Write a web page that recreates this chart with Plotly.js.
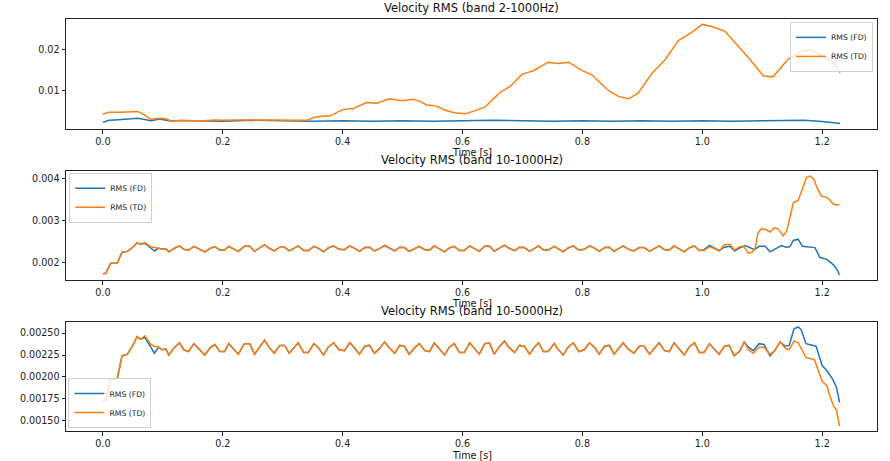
<!DOCTYPE html>
<html>
<head>
<meta charset="utf-8">
<script src="https://cdn.plot.ly/plotly-3.0.1.min.js"></script>
<style>
  html, body { margin: 0; padding: 0; background: #fff; }
  #chart { width: 890px; height: 461px; }
</style>
</head>
<body>
<div id="chart"></div>
<script>
// band 2-1000Hz
const tFd1 = [0, 0.01, 0.02, 0.035, 0.05, 0.058, 0.07, 0.08, 0.095, 0.11, 0.15, 0.2, 0.25, 0.3, 0.35, 0.4, 0.45, 0.5, 0.55, 0.6, 0.65, 0.7, 0.75, 0.8, 0.85, 0.9, 0.95, 1.0, 1.05, 1.1, 1.15, 1.17, 1.2, 1.23];
const vFd1 = [0.0021, 0.0026, 0.0027, 0.0028, 0.0030, 0.0031, 0.0028, 0.0025, 0.0029, 0.0025, 0.0025, 0.0024, 0.0026, 0.0025, 0.0024, 0.0025, 0.0024, 0.0025, 0.0024, 0.0025, 0.0026, 0.0025, 0.0024, 0.0025, 0.0024, 0.0025, 0.0024, 0.0025, 0.0024, 0.0025, 0.0026, 0.0026, 0.0023, 0.0018];
const tTd1 = [0, 0.01, 0.03, 0.05, 0.058, 0.065, 0.08, 0.095, 0.105, 0.115, 0.13, 0.15, 0.17, 0.185, 0.2, 0.22, 0.24, 0.26, 0.28, 0.3, 0.32, 0.34, 0.352, 0.365, 0.38, 0.392, 0.402, 0.418, 0.43, 0.44, 0.457, 0.477, 0.5, 0.518, 0.53, 0.54, 0.557, 0.571, 0.588, 0.605, 0.621, 0.638, 0.65, 0.663, 0.68, 0.699, 0.718, 0.743, 0.76, 0.777, 0.799, 0.816, 0.83, 0.843, 0.86, 0.877, 0.893, 0.916, 0.938, 0.96, 0.98, 1.0, 1.016, 1.038, 1.06, 1.08, 1.102, 1.118, 1.143, 1.165, 1.177, 1.19, 1.216, 1.23];
const vTd1 = [0.0041, 0.0046, 0.0046, 0.0048, 0.0048, 0.0043, 0.0029, 0.0031, 0.0030, 0.0024, 0.0026, 0.0025, 0.0025, 0.0027, 0.0026, 0.0027, 0.0027, 0.0027, 0.0026, 0.0026, 0.0027, 0.0026, 0.0033, 0.0036, 0.0037, 0.0047, 0.0053, 0.0055, 0.0063, 0.0070, 0.0068, 0.0079, 0.0074, 0.0078, 0.0072, 0.0064, 0.0061, 0.0051, 0.0044, 0.0042, 0.0050, 0.0059, 0.0077, 0.0095, 0.0110, 0.0139, 0.0148, 0.0169, 0.0166, 0.0169, 0.0149, 0.0138, 0.0118, 0.0100, 0.0085, 0.0079, 0.0093, 0.0142, 0.0175, 0.0222, 0.0240, 0.0262, 0.0257, 0.0245, 0.0208, 0.0175, 0.0135, 0.0133, 0.0176, 0.0195, 0.0199, 0.0193, 0.0171, 0.0143];

// bands 10-1000Hz and 10-5000Hz share the start
const tHead = [0, 0.005, 0.013, 0.024, 0.032, 0.041, 0.05, 0.057, 0.063, 0.07, 0.08, 0.086, 0.093, 0.099];
const vHeadFd = [0.00173, 0.00174, 0.00198, 0.00198, 0.00224, 0.00226, 0.00236, 0.00246, 0.00243, 0.00245, 0.00234, 0.00227, 0.00234, 0.00231];
const vHeadTd = [0.00173, 0.00174, 0.00198, 0.00198, 0.00224, 0.00226, 0.00236, 0.00246, 0.00243, 0.00247, 0.00237, 0.00235, 0.00234, 0.00231];

const tMid = [0.105, 0.11, 0.12, 0.128, 0.135, 0.143, 0.152, 0.16, 0.17, 0.18, 0.187, 0.195, 0.203, 0.21, 0.217, 0.226, 0.236, 0.245, 0.253, 0.261, 0.27, 0.277, 0.286, 0.295, 0.303, 0.311, 0.32, 0.326, 0.335, 0.343, 0.352, 0.359, 0.368, 0.376, 0.385, 0.394, 0.403, 0.412, 0.42, 0.428, 0.437, 0.445, 0.453, 0.461, 0.47, 0.477, 0.487, 0.495, 0.503, 0.511, 0.521, 0.528, 0.537, 0.545, 0.553, 0.561, 0.57, 0.578, 0.586, 0.595, 0.603, 0.612, 0.62, 0.628, 0.637, 0.645, 0.653, 0.661, 0.67, 0.677, 0.687, 0.695, 0.703, 0.712, 0.72, 0.727, 0.735, 0.743, 0.753, 0.759, 0.768, 0.776, 0.785, 0.794, 0.803, 0.812, 0.821, 0.828, 0.837, 0.845, 0.853, 0.861, 0.868, 0.876, 0.886, 0.895, 0.903, 0.912, 0.92, 0.928, 0.937, 0.945, 0.953, 0.962, 0.97];
const vMid = [0.00232, 0.00225, 0.00234, 0.00239, 0.00231, 0.00229, 0.00238, 0.00232, 0.00225, 0.00234, 0.00237, 0.00229, 0.00229, 0.00238, 0.00233, 0.00226, 0.00238, 0.00238, 0.00226, 0.00234, 0.00242, 0.00234, 0.00227, 0.00236, 0.00236, 0.00227, 0.00234, 0.00239, 0.00228, 0.00228, 0.00238, 0.00234, 0.00225, 0.00234, 0.00239, 0.00231, 0.0023, 0.00239, 0.00233, 0.00226, 0.00235, 0.00236, 0.00227, 0.00232, 0.0024, 0.00234, 0.00227, 0.00236, 0.00235, 0.00226, 0.00234, 0.00238, 0.0023, 0.00229, 0.00239, 0.00232, 0.00225, 0.00234, 0.00238, 0.00228, 0.00228, 0.00239, 0.00232, 0.00226, 0.00238, 0.00239, 0.00226, 0.00234, 0.00241, 0.00234, 0.00228, 0.00236, 0.00235, 0.00226, 0.00234, 0.00239, 0.00229, 0.00229, 0.00238, 0.00232, 0.00225, 0.00234, 0.00239, 0.00229, 0.00231, 0.00239, 0.00233, 0.00226, 0.00235, 0.00236, 0.00226, 0.00233, 0.00239, 0.00232, 0.00227, 0.00235, 0.00235, 0.00226, 0.00233, 0.00239, 0.0023, 0.00229, 0.00239, 0.00232, 0.00225];

// band 10-1000Hz tail
const tTail2Fd = [0.978, 0.987, 0.995, 1.003, 1.012, 1.02, 1.028, 1.037, 1.046, 1.054, 1.062, 1.072, 1.08, 1.087, 1.095, 1.105, 1.113, 1.12, 1.127, 1.132, 1.14, 1.146, 1.152, 1.16, 1.167, 1.177, 1.188, 1.196, 1.208, 1.219, 1.226, 1.229];
const vTail2Fd = [0.00234, 0.00239, 0.00228, 0.0023, 0.0024, 0.00234, 0.00228, 0.00236, 0.00238, 0.00227, 0.00234, 0.0024, 0.00234, 0.0023, 0.00238, 0.00238, 0.00225, 0.0023, 0.00236, 0.0024, 0.00236, 0.00237, 0.00252, 0.00255, 0.00238, 0.00236, 0.00235, 0.00212, 0.00207, 0.00194, 0.0018, 0.0017];
const tTail2Td = [0.978, 0.987, 0.995, 1.003, 1.012, 1.02, 1.028, 1.037, 1.046, 1.054, 1.062, 1.069, 1.077, 1.083, 1.088, 1.093, 1.099, 1.106, 1.113, 1.12, 1.126, 1.135, 1.141, 1.147, 1.152, 1.16, 1.168, 1.174, 1.18, 1.186, 1.192, 1.199, 1.207, 1.212, 1.218, 1.224, 1.229];
const vTail2Td = [0.00234, 0.00239, 0.00228, 0.00228, 0.00237, 0.00233, 0.00227, 0.00242, 0.00243, 0.00229, 0.00237, 0.00238, 0.00222, 0.00224, 0.00232, 0.0027, 0.0028, 0.00278, 0.00272, 0.00282, 0.0028, 0.00263, 0.00275, 0.0031, 0.00342, 0.00347, 0.00378, 0.00402, 0.00405, 0.00398, 0.00375, 0.00357, 0.00355, 0.0035, 0.00339, 0.00336, 0.00337];

// band 10-5000Hz tail
const tTail3Fd = [0.978, 0.987, 0.995, 1.003, 1.012, 1.02, 1.028, 1.037, 1.045, 1.053, 1.062, 1.07, 1.077, 1.085, 1.095, 1.103, 1.113, 1.121, 1.13, 1.138, 1.145, 1.153, 1.16, 1.165, 1.173, 1.185, 1.19, 1.2, 1.207, 1.218, 1.224, 1.229];
const vTail3Fd = [0.00234, 0.00239, 0.00228, 0.00228, 0.00238, 0.00232, 0.00226, 0.00235, 0.00236, 0.00224, 0.00229, 0.0024, 0.00234, 0.0023, 0.00238, 0.00237, 0.00224, 0.0023, 0.0024, 0.00235, 0.00236, 0.00255, 0.00257, 0.00254, 0.00238, 0.00236, 0.00235, 0.00213, 0.00208, 0.00197, 0.00188, 0.00171];
const tTail3Td = [0.978, 0.987, 0.995, 1.003, 1.012, 1.02, 1.028, 1.037, 1.045, 1.053, 1.062, 1.07, 1.077, 1.085, 1.095, 1.103, 1.113, 1.121, 1.13, 1.138, 1.145, 1.153, 1.16, 1.173, 1.187, 1.2, 1.208, 1.213, 1.219, 1.224, 1.229];
const vTail3Td = [0.00234, 0.00239, 0.00228, 0.00228, 0.00238, 0.00232, 0.00226, 0.00235, 0.00236, 0.00225, 0.00229, 0.0024, 0.00231, 0.00227, 0.00234, 0.00234, 0.00226, 0.0023, 0.0024, 0.00233, 0.00231, 0.00241, 0.00239, 0.00222, 0.0022, 0.00195, 0.0019, 0.00178, 0.00167, 0.00162, 0.00144];

const titles = ['Velocity RMS (band 2-1000Hz)', 'Velocity RMS (band 10-1000Hz)', 'Velocity RMS (band 10-5000Hz)'];
const xLabel = 'Time [s]';

const blue = '#1f77b4';
const orange = '#ff7f0e';
const font = 'DejaVu Sans, sans-serif';

function line(x, y, name, color, ax, leg) {
  return {
    x: x, y: y, name: name, mode: 'lines', type: 'scatter',
    line: {color: color, width: 1.5},
    xaxis: 'x' + ax, yaxis: 'y' + ax, legend: leg
  };
}

const traces = [
  line(tFd1, vFd1, 'RMS (FD)', blue, '', 'legend'),
  line(tTd1, vTd1, 'RMS (TD)', orange, '', 'legend'),
  line(tHead.concat(tMid, tTail2Fd), vHeadFd.concat(vMid, vTail2Fd), 'RMS (FD)', blue, '2', 'legend2'),
  line(tHead.concat(tMid, tTail2Td), vHeadTd.concat(vMid, vTail2Td), 'RMS (TD)', orange, '2', 'legend2'),
  line(tHead.concat(tMid, tTail3Fd), vHeadFd.concat(vMid, vTail3Fd), 'RMS (FD)', blue, '3', 'legend3'),
  line(tHead.concat(tMid, tTail3Td), vHeadTd.concat(vMid, vTail3Td), 'RMS (TD)', orange, '3', 'legend3')
];

function xax(anchor) {
  return {
    anchor: anchor, domain: [0, 1], range: [-0.0615, 1.2915],
    tick0: 0, dtick: 0.2, tickformat: '.1f',
    ticks: 'outside', ticklen: 3.5, tickcolor: '#222',
    showline: true, mirror: true, linecolor: '#222', linewidth: 1,
    showgrid: false, zeroline: false,
    tickfont: {family: font, size: 9.6, color: '#222'}
  };
}
function yax(anchor, domain, range, dtick, fmt) {
  return {
    anchor: anchor, domain: domain, range: range,
    dtick: dtick, tick0: 0, tickformat: fmt,
    ticks: 'outside', ticklen: 3.5, tickcolor: '#222',
    showline: true, mirror: true, linecolor: '#222', linewidth: 1,
    showgrid: false, zeroline: false,
    tickfont: {family: font, size: 9.6, color: '#222'}
  };
}

function legendAt(x, y, xanchor, yanchor) {
  return {
    x: x, y: y, xanchor: xanchor, yanchor: yanchor,
    bgcolor: 'rgba(255,255,255,0.8)', bordercolor: '#d0d0d0', borderwidth: 1,
    font: {family: font, size: 7.7, color: '#222'},
    itemwidth: 30, tracegroupgap: 0
  };
}

function label(text, y, size) {
  return {
    text: text, x: 0.5, y: y, xref: 'paper', yref: 'paper',
    xanchor: 'center', yanchor: 'middle', showarrow: false,
    font: {family: font, size: size, color: '#111'}
  };
}

const layout = {
  width: 890, height: 461,
  margin: {l: 66, r: 13, t: 19, b: 30},
  paper_bgcolor: '#fff', plot_bgcolor: '#fff',
  font: {family: font},
  showlegend: true,
  xaxis: xax('y'),
  yaxis: yax('x', [0.733, 1], [0.00047, 0.02753], 0.01, '.2f'),
  xaxis2: xax('y2'),
  yaxis2: yax('x2', [0.3665, 0.6311], [0.00158, 0.00417], 0.001, '.3f'),
  xaxis3: xax('y3'),
  yaxis3: yax('x3', [0, 0.2646], [0.001384, 0.002627], 0.00025, '.5f'),
  legend: legendAt(0.995, 0.993, 'right', 'top'),
  legend2: legendAt(0.004, 0.627, 'left', 'top'),
  legend3: legendAt(0.003, 0.007, 'left', 'bottom'),
  annotations: [
    label(xLabel, 0.6748, 9.6),
    label(xLabel, 0.3083, 9.6),
    label(xLabel, -0.0583, 9.6),
    label(titles[0], 1.0267, 11.5),
    label(titles[1], 0.6578, 11.5),
    label(titles[2], 0.2913, 11.5)
  ]
};

Plotly.newPlot('chart', traces, layout, {staticPlot: true, displayModeBar: false});
</script>
</body>
</html>
